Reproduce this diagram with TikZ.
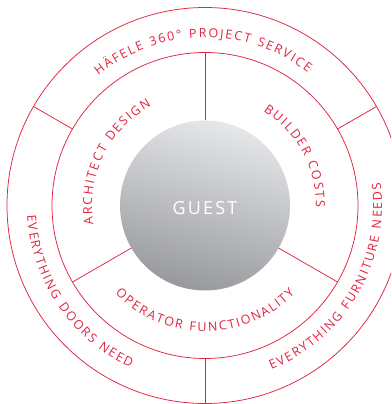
\documentclass[tikz,border=0pt]{standalone}
\usepackage{fontspec}
\usetikzlibrary{decorations.text}
\newfontfamily\ringfont{Open Sans}
\newfontfamily\guestfont[LetterSpace=12]{Open Sans}
\definecolor{hred}{HTML}{E2233F}
\definecolor{gtop}{HTML}{E6E7E9}
\definecolor{gbot}{HTML}{98999D}
\def\K{\kern1.8pt}
\def\W{{\kern5.5pt}}
\tikzset{
  ring/.style={draw=hred, line width=0.75pt},
  divider/.style={draw=hred, line width=0.75pt},
  arctext/.style={decorate, decoration={text along path, text align=center,
      text color=hred, text={|\ringfont\fontsize{12.5}{14}\selectfont|#1}}},
  guestlabel/.style={text=white, font=\guestfont\fontsize{18}{20}\selectfont, inner sep=0pt}
}
\begin{document}
\begin{tikzpicture}[x=1pt,y=1pt]
\useasboundingbox (-205,-198.5) rectangle (186,205.5);
\clip (-205,-198.5) rectangle (186,205.5);
\fill[white] (-205,-198.5) rectangle (186,205.5);
% centre disc
\shade[top color=gtop, bottom color=gbot, shading angle=-15] (0,0) circle[radius=85];
\node[guestlabel] (guest) at (0,-2.5) {GUEST};
% rings
\draw[ring] (0,0) circle[radius=153];
\draw[ring] (0,0) circle[radius=198];
% dividers, middle ring
\coordinate (m1a) at (90:85);  \coordinate (m1b) at (90:153);
\coordinate (m2a) at (-30:85); \coordinate (m2b) at (-30:153);
\coordinate (m3a) at (210:85); \coordinate (m3b) at (210:153);
\draw[divider] (m1a) -- (m1b);
\draw[divider] (m2a) -- (m2b);
\draw[divider] (m3a) -- (m3b);
% dividers, outer ring
\coordinate (o1a) at (150:153); \coordinate (o1b) at (150:198);
\coordinate (o2a) at (30:153);  \coordinate (o2b) at (30:198);
\coordinate (o3a) at (-90:153); \coordinate (o3b) at (-90:198);
\draw[divider] (o1a) -- (o1b);
\draw[divider] (o2a) -- (o2b);
\draw[divider] (o3a) -- (o3b);
% middle ring texts
\path[arctext={{A\K}{R\K}{C\K}{H\K}{I\K}{T\K}{E\K}{C\K}{T\K}\W{D\K}{E\K}{S\K}{I\K}{G\K}{N}}]
  (224:113) arc[start angle=224, end angle=84, radius=113];
\path[arctext={{B\K}{U\K}{I\K}{L\K}{D\K}{E\K}{R\K}\W{C\K}{O\K}{S\K}{T\K}{S}}]
  (98.7:111) arc[start angle=98.7, end angle=-41.3, radius=111];
\path[arctext={{O\K}{P\K}{E\K}{R\K}{A\K}{T\K}{O\K}{R\K}\W{F\K}{U\K}{N\K}{C\K}{T\K}{I\K}{O\K}{N\K}{A\K}{L\K}{I\K}{T\K}{Y}}]
  (200:126) arc[start angle=200, end angle=340, radius=126];
% outer ring texts
\path[arctext={{H\K}{Ä\K}{F\K}{E\K}{L\K}{E\K}\W{3\K}{6\K}{0\K}{°\K}\W{P\K}{R\K}{O\K}{J\K}{E\K}{C\K}{T\K}\W{S\K}{E\K}{R\K}{V\K}{I\K}{C\K}{E}}]
  (150.8:168) arc[start angle=150.8, end angle=30.8, radius=168];
\path[arctext={{E\K}{V\K}{E\K}{R\K}{Y\K}{T\K}{H\K}{I\K}{N\K}{G\K}\W{D\K}{O\K}{O\K}{R\K}{S\K}\W{N\K}{E\K}{E\K}{D}}]
  (154.2:178) arc[start angle=154.2, end angle=274.2, radius=178];
\path[arctext={{E\K}{V\K}{E\K}{R\K}{Y\K}{T\K}{H\K}{I\K}{N\K}{G\K}\W{F\K}{U\K}{R\K}{N\K}{I\K}{T\K}{U\K}{R\K}{E\K}\W{N\K}{E\K}{E\K}{D\K}{S}}]
  (-90.3:177) arc[start angle=-90.3, end angle=29.7, radius=177];
\end{tikzpicture}
\end{document}
